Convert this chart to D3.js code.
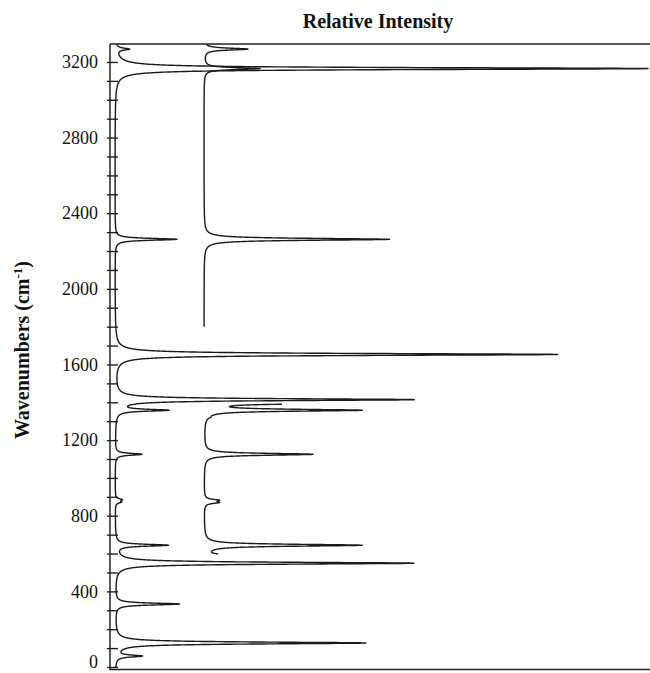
<!DOCTYPE html>
<html>
<head>
<meta charset="utf-8">
<script src="https://cdn.jsdelivr.net/npm/d3@7"></script>
<style>
  html, body { margin: 0; padding: 0; background: #fff; }
  svg { display: block; }
  .lbl { font-family: "Liberation Serif", "Times New Roman", serif; fill: #111; }
</style>
</head>
<body>
<svg id="chart" width="650" height="673"></svg>
<script>
// ─── Data ─────────────────────────────────────────────────────
// lower trace: peak centres (cm-1) and relative heights (0-100)
const lowerPeakPos = [3268, 3165, 2262, 1653, 1414, 1358, 1125, 885, 872, 644, 549, 333, 127, 58];
const lowerPeakInt = [2.4, 100, 11.6, 83, 56, 9.5, 5.0, 1.2, 1.0, 9.8, 56, 12, 47, 4.8];
// upper (offset) trace
const upperPeakPos = [3268, 3165, 2262, 1393, 1358, 1320, 1125, 882, 870, 644, 590];
const upperPeakInt = [8.2, 10.5, 34.8, 17, 29.2, 0.4, 20.4, 2.4, 2.4, 29.6, 6.0];
// wavenumber ranges that each trace is drawn over
const lowerRanges = [[0, 3295]];
const upperRanges = [[1800, 3295], [598, 1390]];
const upperOffset = 16.7;
const halfWidth = 6; // cm-1, lorentzian HWHM

const yTickValues = d3.range(0, 3300, 100);
const yLabelEvery = 400;

(() => {
  const svg = d3.select("#chart");

  // ─── Scales ──────────────────────────────────────────────────
  const y = d3.scaleLinear().domain([0, 3295]).range([667, 44]);
  const x = d3.scaleLinear().domain([0, 100]).range([115, 648]);

  // ─── Frame ───────────────────────────────────────────────────
  const frame = svg.append("g").attr("stroke", "#222").attr("stroke-width", 1.5);
  frame.append("line").attr("x1", 110).attr("x2", 650).attr("y1", 44).attr("y2", 44);
  frame.append("line").attr("x1", 110).attr("x2", 650).attr("y1", 669.5).attr("y2", 669.5);
  frame.append("line").attr("x1", 110).attr("x2", 110).attr("y1", 44).attr("y2", 670);

  // ─── Y axis ──────────────────────────────────────────────────
  const yAxis = d3.axisLeft(y)
    .tickValues(yTickValues)
    .tickSizeInner(-8)
    .tickSizeOuter(0)
    .tickPadding(12)
    .tickFormat((d) => (d % yLabelEvery === 0 ? d : ""));

  const ag = svg.append("g").attr("transform", "translate(110,0)").call(yAxis);
  ag.select(".domain").remove();
  ag.selectAll(".tick line").attr("x1", -3).attr("x2", 8).attr("stroke", "#222").attr("stroke-width", 1.4);
  ag.selectAll(".tick text")
    .attr("class", "lbl")
    .attr("font-size", 18)
    .attr("font-family", "Liberation Serif, Times New Roman, serif")
    .attr("fill", "#111")
    .attr("dy", (d) => (d === 0 ? "0em" : "0.32em"));

  // ─── Spectra ─────────────────────────────────────────────────
  function intensity(v, pos, amp) {
    let s = 0;
    const g2 = halfWidth * halfWidth;
    for (let i = 0; i < pos.length; i++) {
      const d = v - pos[i];
      s += amp[i] * g2 / (d * d + g2);
    }
    return s;
  }

  const line = d3.line()
    .x((d) => x(d[1]))
    .y((d) => y(d[0]));

  function drawTrace(ranges, pos, amp, offset) {
    ranges.forEach(([lo, hi]) => {
      const pts = d3.range(lo, hi + 0.001, 0.25).map((v) => [v, offset + intensity(v, pos, amp)]);
      svg.append("path")
        .datum(pts)
        .attr("fill", "none")
        .attr("stroke", "#1a1a1a")
        .attr("stroke-width", 1.4)
        .attr("stroke-linejoin", "round")
        .attr("d", line);
    });
  }

  drawTrace(lowerRanges, lowerPeakPos, lowerPeakInt, 0);
  drawTrace(upperRanges, upperPeakPos, upperPeakInt, upperOffset);

  // ─── Titles ──────────────────────────────────────────────────
  svg.append("text")
    .attr("class", "lbl")
    .attr("x", 378)
    .attr("y", 28)
    .attr("text-anchor", "middle")
    .attr("font-size", 20)
    .attr("font-weight", "bold")
    .text("Relative Intensity");

  const yl = svg.append("text")
    .attr("class", "lbl")
    .attr("transform", "translate(29,350) rotate(-90)")
    .attr("text-anchor", "middle")
    .attr("font-size", 20)
    .attr("font-weight", "bold");
  yl.append("tspan").text("Wavenumbers (cm");
  yl.append("tspan").attr("font-size", 13).attr("dy", -7).text("-1");
  yl.append("tspan").attr("dy", 7).text(")");
})();
</script>
</body>
</html>
